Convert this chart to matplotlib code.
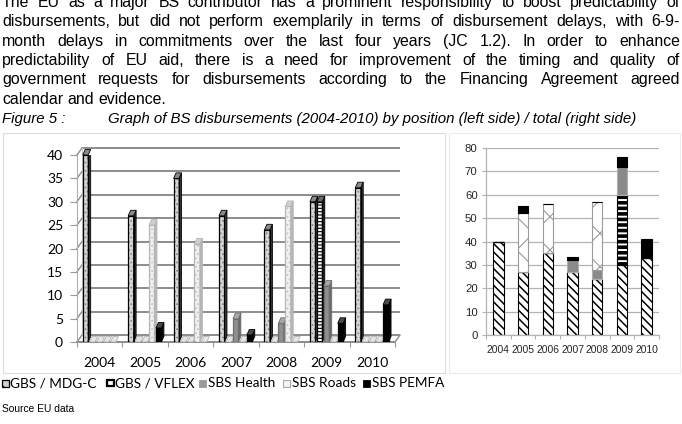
import matplotlib
matplotlib.use("Agg")
import matplotlib.pyplot as plt
import matplotlib.patches as mpatches

# ─── Data ─────────────────────────────────────────────────────────────────────
YEARS   = ["2004", "2005", "2006", "2007", "2008", "2009", "2010"]
SERIES  = ["GBS / MDG-C", "GBS / VFLEX", "SBS Health", "SBS Roads", "SBS PEMFA"]
MDG_C   = [40, 27, 35, 27, 24, 30, 33]
VFLEX   = [0, 0, 0, 0, 0, 30, 0]
HEALTH  = [0, 0, 0, 5, 4, 12, 0]
ROADS   = [0, 25, 21, 0, 29, 0, 0]
PEMFA   = [0, 3, 0, 1.5, 0, 4, 8]
VALUES  = [MDG_C, VFLEX, HEALTH, ROADS, PEMFA]

LEFT_YTICKS  = list(range(0, 41, 5))
RIGHT_YTICKS = list(range(0, 81, 10))

PARAGRAPH = [
    "The EU as a major BS contributor has a prominent responsibility to boost predictability of",
    "disbursements, but did not perform exemplarily in terms of disbursement delays, with 6-9-",
    "month delays in commitments over the last four years (JC 1.2). In order to enhance",
    "predictability of EU aid, there is a need for improvement of the timing and quality of",
    "government requests for disbursements according to the Financing Agreement agreed",
    "calendar and evidence.",
]
CAPTION_NO   = "Figure 5 :"
CAPTION_TEXT = "Graph of BS disbursements (2004-2010) by position (left side) / total (right side)"
SOURCE       = "Source EU data"

# ─── Styles ───────────────────────────────────────────────────────────────────
W, H = 682, 424
TEXT_FONT  = "Liberation Sans"
TEXT_SIZE  = 11.4
CAP_SIZE   = 10.8
CHART_FONT = "Lato"
GRID_DARK  = "#8c8c8c"
GRID_LIGHT = "#b3b3b3"

# left (pseudo-3D) chart styles: face, hatch, hatch colour, edge, side, top
STYLE_3D = [
    dict(face="#d6d6d6", hatch="....", hc="#8a8a8a", edge="black",   side="#3a3a3a", top="#8a8a8a"),
    dict(face="white",   hatch="-----", hc="black",  edge="black",   side="#202020", top="#6a6a6a"),
    dict(face="#8f8f8f", hatch=None,   hc=None,      edge="#6e6e6e", side="#6a6a6a", top="#a8a8a8"),
    dict(face="#f0f0f0", hatch="....", hc="#c4c4c4", edge="#b5b5b5", side="#b8b8b8", top="#d0d0d0"),
    dict(face="black",   hatch=None,   hc=None,      edge="black",   side="#111111", top="#4a4a4a"),
]
# right (stacked) chart styles
STYLE_2D = [
    dict(face="white",   hatch="\\\\\\\\", edge="black",   hlw=1.1),
    dict(face="white",   hatch="---",      edge="black",   hlw=2.6),
    dict(face="#8a8a8a", hatch=None,       edge="#b0b0b0", hlw=1.0),
    dict(face="white",   hatch="x",        edge="#9a9a9a", hlw=0.8),
    dict(face="black",   hatch=None,       edge="black",   hlw=1.0),
]


def fx(x):
    return x / W


def fy(y):
    return 1 - y / H


def set_hlw(artist, lw):
    if hasattr(artist, "set_hatch_linewidth"):
        artist.set_hatch_linewidth(lw)


plt.rcParams["hatch.linewidth"] = 1.0
fig = plt.figure(figsize=(W / 100, H / 100), dpi=100)
fig.patch.set_facecolor("white")
renderer = fig.canvas.get_renderer()

# ─── Paragraph (justified) ────────────────────────────────────────────────────
def justified(line, y, x0=2, x1=680, last=False, **kw):
    words = line.split()
    texts = [fig.text(0, fy(y), w, va="baseline", ha="left", **kw) for w in words]
    widths = [t.get_window_extent(renderer).width for t in texts]
    if last or len(words) == 1:
        gap = kw.get("fontsize", 10) * 100 / 72 * 0.278
    else:
        gap = (x1 - x0 - sum(widths)) / (len(words) - 1)
    x = x0
    for t, w in zip(texts, widths):
        t.set_x(fx(x))
        x += w + gap


BASELINES = [7, 26.3, 45.6, 64.9, 84.2, 103.5]
for i, (line, yb) in enumerate(zip(PARAGRAPH, BASELINES)):
    justified(line, yb, last=(i == len(PARAGRAPH) - 1),
              fontsize=TEXT_SIZE, family=TEXT_FONT, color="black")

fig.text(fx(2), fy(123), CAPTION_NO, style="italic", fontsize=CAP_SIZE,
         family=TEXT_FONT, va="baseline")
fig.text(fx(108), fy(123), CAPTION_TEXT, style="italic", fontsize=CAP_SIZE,
         family=TEXT_FONT, va="baseline")
fig.text(fx(2), fy(412), SOURCE, fontsize=7.4, family=TEXT_FONT, va="baseline")

# chart frames
fig.add_artist(mpatches.Rectangle((fx(3), fy(373)), fx(442), (373 - 133) / H,
                                  transform=fig.transFigure, fill=False,
                                  edgecolor="#dcdcdc", lw=0.8))
fig.add_artist(mpatches.Rectangle((fx(449), fy(373)), fx(231), (373 - 133) / H,
                                  transform=fig.transFigure, fill=False,
                                  edgecolor="#ececec", lw=0.8))

# ─── Left chart: clustered pseudo-3D bars ─────────────────────────────────────
X_L, X_R, Y_0, Y_40 = 77, 395, 342, 155
ax1 = fig.add_axes([fx(X_L), fy(Y_0), (X_R - X_L) / W, (Y_0 - Y_40) / H])
ax1.set_xlim(-0.5, len(YEARS) - 0.5)
ax1.set_ylim(0, 40)
for s in ax1.spines.values():
    s.set_visible(False)
ax1.patch.set_alpha(0)

px_x = (X_R - X_L) / len(YEARS)         # pixels per category
px_y = (Y_0 - Y_40) / 40.0              # pixels per unit
bdx, bdy = 2.5 / px_x, 5.5 / px_y       # bar depth
gdx, gdy = 5.0 / px_x, 7.0 / px_y       # back wall offset

# back wall gridlines with the slanted side wall
for v in LEFT_YTICKS:
    ax1.plot([-0.5 + gdx, len(YEARS) - 0.5 + gdx], [v + gdy, v + gdy],
             color=GRID_DARK, lw=1.4, zorder=0, clip_on=False,
             solid_capstyle="butt")
    ax1.plot([-0.5, -0.5 + gdx], [v, v + gdy], color=GRID_DARK, lw=1.0,
             zorder=0, clip_on=False)
ax1.plot([-0.5 + gdx, -0.5 + gdx], [gdy, 40 + gdy], color="#c8c8c8", lw=0.8,
         zorder=0, clip_on=False)
ax1.plot([-0.5, -0.5], [0, 40], color="#b0b0b0", lw=0.8, zorder=0, clip_on=False)
ax1.plot([-0.5, len(YEARS) - 0.5], [0, 0], color=GRID_DARK, lw=1.4, zorder=1,
         clip_on=False)
ax1.plot([len(YEARS) - 0.5, len(YEARS) - 0.5 + gdx], [0, gdy], color=GRID_DARK,
         lw=1.0, zorder=1, clip_on=False)

SLOT0, SLOT_STEP, BAR_W = -0.314, 0.153, 0.12
z = 3
for i in range(len(YEARS)):
    for k, (vals, st) in enumerate(zip(VALUES, STYLE_3D)):
        h = vals[i]
        xc = i + SLOT0 + SLOT_STEP * k
        x0, x1 = xc - BAR_W / 2, xc + BAR_W / 2
        if h > 0:
            if st["hatch"]:
                b = ax1.bar(xc, h, width=BAR_W, color=st["face"],
                            edgecolor=st["hc"], hatch=st["hatch"], lw=0, zorder=z)
                for p in b:
                    set_hlw(p, 0.8)
            else:
                ax1.bar(xc, h, width=BAR_W, color=st["face"], lw=0, zorder=z)
            ax1.bar(xc, h, width=BAR_W, fill=False, edgecolor=st["edge"],
                    lw=0.9, zorder=z + 0.1)
            ax1.fill([x1, x1 + bdx, x1 + bdx, x1], [0, bdy, h + bdy, h],
                     color=st["side"], lw=0.6, edgecolor=st["edge"], zorder=z)
            ax1.fill([x0, x0 + bdx, x1 + bdx, x1], [h, h + bdy, h + bdy, h],
                     facecolor=st["top"], edgecolor=st["edge"], lw=0.6,
                     zorder=z + 0.1, clip_on=False)
        else:
            # empty slot: flat lid lying on the floor
            ax1.fill([x0, x0 + bdx, x1 + bdx, x1], [0, bdy, bdy, 0],
                     facecolor="#e6e6e6", edgecolor="#a8a8a8", lw=0.5,
                     zorder=z + 0.1, clip_on=False)
        z += 0.2

ax1.set_yticks(LEFT_YTICKS)
ax1.set_yticklabels([str(v) for v in LEFT_YTICKS], fontsize=10,
                    family=CHART_FONT)
ax1.tick_params(axis="y", length=5, width=0.8, color="#9a9a9a", pad=5,
                labelcolor="black")
ax1.set_xticks(range(len(YEARS)))
ax1.set_xticklabels(YEARS, fontsize=10, family=CHART_FONT)
ax1.set_xticks([i - 0.5 for i in range(len(YEARS) + 1)], minor=True)
ax1.tick_params(axis="x", which="major", length=0, pad=11)
ax1.tick_params(axis="x", which="minor", length=3.5, width=0.8,
                color="#9a9a9a", direction="out")

# legend row under the left chart
LEG_X = [2, 107, 199, 283, 363]
LEG_Y = 383
for k, (name, lx) in enumerate(zip(SERIES, LEG_X)):
    if k == 0:
        r = mpatches.Rectangle((fx(lx), fy(LEG_Y + 3.5)), fx(7), 7 / H,
                               transform=fig.transFigure, facecolor="#d0d0d0",
                               edgecolor="black", hatch="\\\\", lw=0.9)
    elif k == 1:
        r = mpatches.Rectangle((fx(lx), fy(LEG_Y + 3)), fx(7), 6 / H,
                               transform=fig.transFigure, facecolor="white",
                               edgecolor="black", lw=1.6)
    elif k == 2:
        r = mpatches.Rectangle((fx(lx), fy(LEG_Y + 3.5)), fx(7), 7 / H,
                               transform=fig.transFigure, facecolor="#9a9a9a",
                               edgecolor="#9a9a9a", lw=0.6)
    elif k == 3:
        r = mpatches.Rectangle((fx(lx), fy(LEG_Y + 3.5)), fx(7), 7 / H,
                               transform=fig.transFigure, facecolor="#f4f4f4",
                               edgecolor="#a8a8a8", lw=0.8)
    else:
        r = mpatches.Rectangle((fx(lx), fy(LEG_Y + 3.5)), fx(7), 7 / H,
                               transform=fig.transFigure, facecolor="black",
                               edgecolor="black", lw=0.6)
    fig.add_artist(r)
    fig.text(fx(lx + 8.5), fy(LEG_Y), name, fontsize=9.8, family=CHART_FONT,
             va="center", ha="left")

# ─── Right chart: stacked totals ──────────────────────────────────────────────
R_L, R_R, R_0, R_80 = 486, 659, 335, 148
ax2 = fig.add_axes([fx(R_L), fy(R_0), (R_R - R_L) / W, (R_0 - R_80) / H])
ax2.set_xlim(-0.5, len(YEARS) - 0.5)
ax2.set_ylim(0, 80)
ax2.set_axisbelow(True)
ax2.yaxis.grid(True, color=GRID_LIGHT, lw=0.9)
for side in ("top", "right"):
    ax2.spines[side].set_visible(False)
for side in ("left", "bottom"):
    ax2.spines[side].set_color(GRID_LIGHT)
    ax2.spines[side].set_linewidth(0.9)

bottom = [0] * len(YEARS)
xs = list(range(len(YEARS)))
for vals, st in zip(VALUES, STYLE_2D):
    bars = ax2.bar(xs, vals, bottom=bottom, width=0.42, color=st["face"],
                   edgecolor=st["edge"], hatch=st["hatch"], lw=0.8, zorder=2)
    for p in bars:
        set_hlw(p, st["hlw"])
    bottom = [b + v for b, v in zip(bottom, vals)]

ax2.set_yticks(RIGHT_YTICKS)
ax2.set_yticklabels([str(v) for v in RIGHT_YTICKS], fontsize=8.2,
                    family=TEXT_FONT)
ax2.tick_params(axis="y", length=3, width=0.8, color=GRID_LIGHT, pad=3,
                labelcolor="#262626")
ax2.set_xticks(xs)
ax2.set_xticklabels(YEARS, fontsize=7.4, family=TEXT_FONT, color="#262626")
ax2.set_xticks([i - 0.5 for i in range(len(YEARS) + 1)], minor=True)
ax2.tick_params(axis="x", which="major", length=0, pad=7)
ax2.tick_params(axis="x", which="minor", length=3, width=0.8, color=GRID_LIGHT)

fig.savefig("out.png", dpi=100, facecolor="white")
